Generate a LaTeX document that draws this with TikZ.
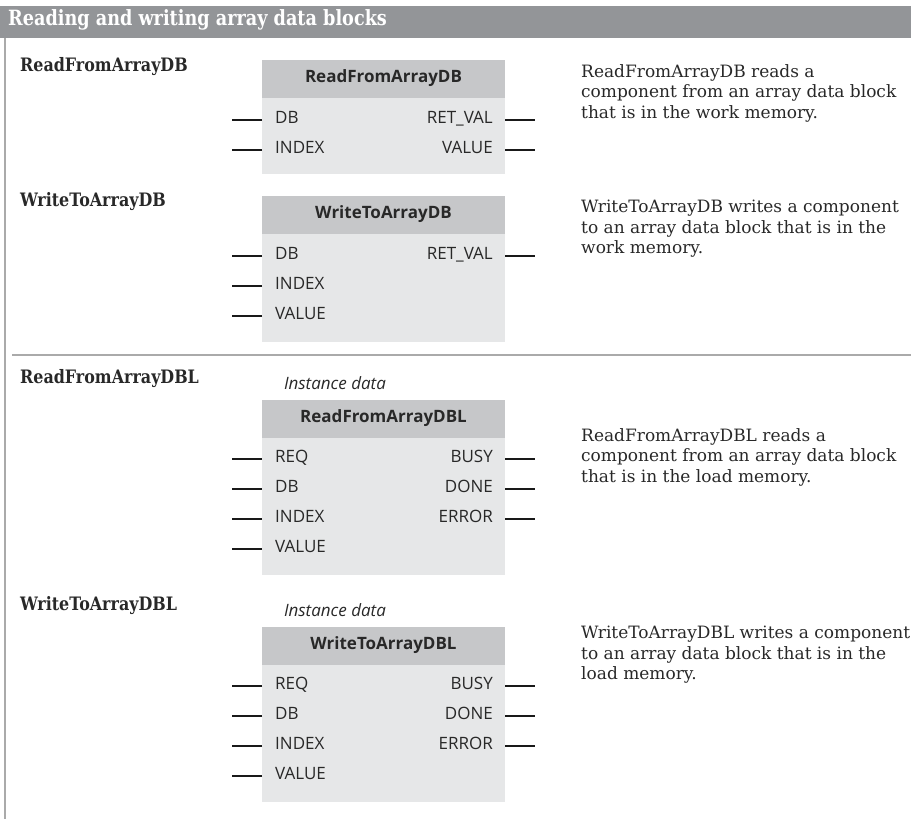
\documentclass[tikz,border=0pt]{standalone}
\usepackage{fontspec}
\setmainfont{DejaVu Serif}
\newfontfamily\sansf{Open Sans}
\newfontfamily\hdrf[FakeStretch=0.84]{DejaVu Serif}
\newfontfamily\lblf[FakeStretch=0.86]{DejaVu Serif}
\definecolor{hdrgray}{RGB}{147,149,152}
\definecolor{titlegray}{RGB}{198,199,201}
\definecolor{bodygray}{RGB}{230,231,232}
\definecolor{linegray}{RGB}{170,170,170}
\definecolor{textdark}{RGB}{40,40,40}
\definecolor{pindark}{RGB}{25,25,25}
\tikzset{
  btitle/.style={fill=titlegray, minimum width=243pt, minimum height=38pt, inner sep=0pt, outer sep=0pt,
    text height=0.714em, text depth=0pt, text=textdark, font=\sansf\bfseries\fontsize{17}{20}\selectfont},
  bbody/.style={fill=bodygray, minimum width=243pt, inner sep=0pt, outer sep=0pt},
  pinl/.style={anchor=west, inner sep=0pt, text height=0.714em, text depth=0pt, text=textdark,
    font=\sansf\fontsize{17}{20}\selectfont},
  pinr/.style={pinl, anchor=east},
  pinline/.style={draw=pindark, line width=2.7pt},
  inst/.style={inner sep=0pt, text=textdark, font=\sansf\itshape\fontsize{17}{20}\selectfont},
  desc/.style={anchor=north west, inner sep=0pt, align=left, text=textdark,
    font=\fontsize{17}{20.5}\selectfont},
  lbl/.style={anchor=west, inner sep=0pt, text height=0.73em, text depth=0pt, text=textdark,
    font=\lblf\bfseries\fontsize{18.5}{21}\selectfont},
  hdr/.style={anchor=west, inner sep=0pt, text height=0.73em, text depth=0pt, text=white,
    font=\hdrf\bfseries\fontsize{21}{24}\selectfont},
  sepline/.style={draw=linegray, line width=1.5pt},
}
\newcommand\myblk[4]{%
  \node[btitle, anchor=north west] (#1t) at (262,#2) {#3};
  \node[bbody, anchor=north west, minimum height=#4] (#1b) at (#1t.south west) {};
}
\newcommand\pinin[4]{%
  \node[pinl] (#1) at (275,#3) {#4};
  \draw[pinline] (#2b.west |- #1) -- ++(-30,0);
}
\newcommand\pinout[4]{%
  \node[pinr] (#1) at (493,#3) {#4};
  \draw[pinline] (#2b.east |- #1) -- ++(30,0);
}
\begin{document}
\begin{tikzpicture}[x=1pt,y=-1pt]
\useasboundingbox (0,0) rectangle (911,819);
% header
\fill[hdrgray] (0,6) rectangle (911,38);
\node[hdr] (hdr) at (8,22) {Reading and writing array data blocks};
\draw[sepline] (5,38) -- (5,819);
\draw[sepline] (12,355) -- (911,355);

% block 1
\node[lbl] (l1) at (20,68) {ReadFromArrayDB};
\myblk{b1}{60}{ReadFromArrayDB}{76}
\pinin{b1i1}{b1}{120}{DB}
\pinin{b1i2}{b1}{150}{INDEX}
\pinout{b1o1}{b1}{120}{RET\_VAL}
\pinout{b1o2}{b1}{150}{VALUE}
\node[desc] (d1) at (581,64) {ReadFromArrayDB reads a\\component from an array data block\\that is in the work memory.};

% block 2
\node[lbl] (l2) at (20,203) {WriteToArrayDB};
\myblk{b2}{196}{WriteToArrayDB}{108}
\pinin{b2i1}{b2}{256}{DB}
\pinin{b2i2}{b2}{286}{INDEX}
\pinin{b2i3}{b2}{316}{VALUE}
\pinout{b2o1}{b2}{256}{RET\_VAL}
\node[desc] (d2) at (581,200) {WriteToArrayDB writes a component\\to an array data block that is in the\\work memory.};

% block 3
\node[lbl] (l3) at (20,380) {ReadFromArrayDBL};
\node[inst] (i3) at (335,383) {Instance data};
\myblk{b3}{400}{ReadFromArrayDBL}{137}
\pinin{b3i1}{b3}{459}{REQ}
\pinin{b3i2}{b3}{489}{DB}
\pinin{b3i3}{b3}{519}{INDEX}
\pinin{b3i4}{b3}{549}{VALUE}
\pinout{b3o1}{b3}{459}{BUSY}
\pinout{b3o2}{b3}{489}{DONE}
\pinout{b3o3}{b3}{519}{ERROR}
\node[desc] (d3) at (581,428) {ReadFromArrayDBL reads a\\component from an array data block\\that is in the load memory.};

% block 4
\node[lbl] (l4) at (20,607) {WriteToArrayDBL};
\node[inst] (i4) at (335,610) {Instance data};
\myblk{b4}{627}{WriteToArrayDBL}{137}
\pinin{b4i1}{b4}{686}{REQ}
\pinin{b4i2}{b4}{716}{DB}
\pinin{b4i3}{b4}{746}{INDEX}
\pinin{b4i4}{b4}{776}{VALUE}
\pinout{b4o1}{b4}{686}{BUSY}
\pinout{b4o2}{b4}{716}{DONE}
\pinout{b4o3}{b4}{746}{ERROR}
\node[desc] (d4) at (581,626) {WriteToArrayDBL writes a component\\to an array data block that is in the\\load memory.};
\end{tikzpicture}
\end{document}
